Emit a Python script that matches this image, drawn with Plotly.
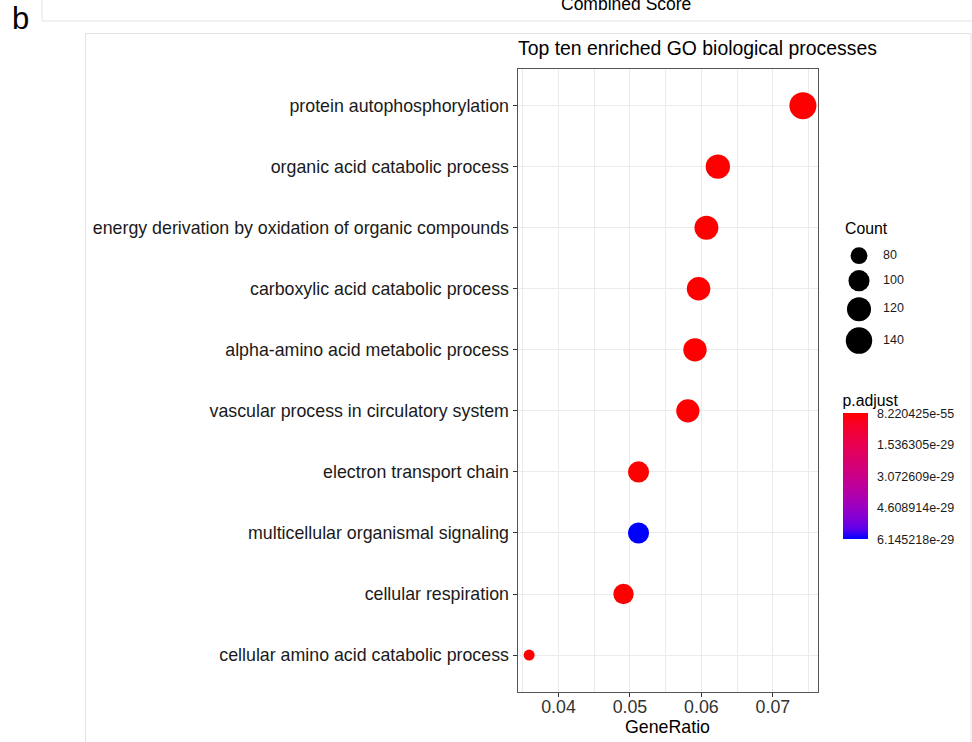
import plotly.graph_objects as go

# ---------------- data ----------------
terms = [
    "protein autophosphorylation",
    "organic acid catabolic process",
    "energy derivation by oxidation of organic compounds",
    "carboxylic acid catabolic process",
    "alpha-amino acid metabolic process",
    "vascular process in circulatory system",
    "electron transport chain",
    "multicellular organismal signaling",
    "cellular respiration",
    "cellular amino acid catabolic process",
]
gene_ratio = [0.0742, 0.0623, 0.0607, 0.0596, 0.0591, 0.0581, 0.0512, 0.0512, 0.0491, 0.0359]
count = [145, 122, 119, 116, 115, 114, 100, 100, 96, 70]
p_adjust = [8.220425e-55, 3.1e-45, 2.4e-44, 5.6e-44, 1.2e-42, 4.5e-40, 2.3e-36,
            6.145218e-29, 7.8e-35, 1.9e-31]

size_breaks = [80, 100, 120, 140]
p_ticks = [8.220425e-55, 1.536305e-29, 3.072609e-29, 4.608914e-29, 6.145218e-29]
p_tick_labels = ["8.220425e-55", "1.536305e-29", "3.072609e-29", "4.608914e-29", "6.145218e-29"]

# ---------------- helpers ----------------
W, H = 972, 742
def px(x):
    return x / W
def py(y):
    return 1 - y / H

C_MIN, C_MAX = 70, 145
D_MIN, D_MAX = 11.0, 27.0
def size_fn(c):
    t = max(0.0, min(1.0, (c - C_MIN) / (C_MAX - C_MIN)))
    return D_MIN + (D_MAX - D_MIN) * t ** 0.5

def srgb_to_lab(rgb):
    def lin(c):
        c = c / 255
        return c / 12.92 if c <= 0.04045 else ((c + 0.055) / 1.055) ** 2.4
    r, g, b = [lin(c) for c in rgb]
    X = 0.4124 * r + 0.3576 * g + 0.1805 * b
    Y = 0.2126 * r + 0.7152 * g + 0.0722 * b
    Z = 0.0193 * r + 0.1192 * g + 0.9505 * b
    def f(t):
        return t ** (1 / 3) if t > 0.008856 else 7.787 * t + 16 / 116
    fx, fy, fz = f(X / 0.95047), f(Y / 1.0), f(Z / 1.08883)
    return 116 * fy - 16, 500 * (fx - fy), 200 * (fy - fz)

def lab_to_srgb(L, a, b):
    fy = (L + 16) / 116
    fx = fy + a / 500
    fz = fy - b / 200
    def finv(t):
        return t ** 3 if t ** 3 > 0.008856 else (t - 16 / 116) / 7.787
    X, Y, Z = 0.95047 * finv(fx), finv(fy), 1.08883 * finv(fz)
    r = 3.2406 * X - 1.5372 * Y - 0.4986 * Z
    g = -0.9689 * X + 1.8758 * Y + 0.0415 * Z
    bb = 0.0557 * X - 0.2040 * Y + 1.0570 * Z
    def gam(c):
        c = max(0.0, min(1.0, c))
        return 12.92 * c if c <= 0.0031308 else 1.055 * c ** (1 / 2.4) - 0.055
    return tuple(int(round(255 * gam(c))) for c in (r, g, bb))

lab_blue = srgb_to_lab((0, 0, 255))
lab_red = srgb_to_lab((255, 0, 0))
colorscale = []
n = 12
for i in range(n + 1):
    t = i / n
    L = lab_blue[0] + (lab_red[0] - lab_blue[0]) * t
    A = lab_blue[1] + (lab_red[1] - lab_blue[1]) * t
    B = lab_blue[2] + (lab_red[2] - lab_blue[2]) * t
    r, g, b = lab_to_srgb(L, A, B)
    colorscale.append([t, f"rgb({r},{g},{b})"])

FONT = "Liberation Sans, Arial, sans-serif"
AX_TXT = "#333333"
fs_axis = 17.8
GRID = "#EBEBEB"

fig = go.Figure()

# main dot plot
fig.add_trace(go.Scatter(
    x=gene_ratio, y=terms, mode="markers",
    marker=dict(
        size=[size_fn(c) for c in count],
        color=[-p for p in p_adjust],
        colorscale=colorscale,
        cmin=-max(p_ticks), cmax=-min(p_ticks),
        line=dict(width=0),
        opacity=1,
        showscale=True,
        colorbar=dict(
            x=px(842.5), xanchor="left",
            y=py(539.3), yanchor="bottom",
            len=148, lenmode="pixels",
            thickness=25, thicknessmode="pixels",
            xpad=0, ypad=0, outlinewidth=0,
            tickvals=[-p for p in p_ticks], ticktext=p_tick_labels,
            ticks="outside", ticklen=7, tickcolor="white", tickwidth=1,
            tickfont=dict(family=FONT, size=12.5, color="#1a1a1a"),
            title=dict(text="p.adjust", side="top",
                       font=dict(family=FONT, size=15.8, color="#000000")),
        ),
    ),
    showlegend=False, hoverinfo="x+y",
))

# size legend (on a hidden pixel-unit axis)
diams = [size_fn(c) for c in size_breaks]
centers = [255.7]
for i in range(1, len(diams)):
    centers.append(centers[-1] + (diams[i - 1] + diams[i]) / 2 + 6)
fig.add_trace(go.Scatter(
    x=[859] * len(size_breaks), y=centers, mode="markers",
    marker=dict(size=diams, color="#000000", opacity=1, line=dict(width=0)),
    xaxis="x2", yaxis="y2", showlegend=False, hoverinfo="skip",
))
fig.add_trace(go.Scatter(
    x=[883] * len(size_breaks), y=centers, mode="text",
    text=[str(b) for b in size_breaks], textposition="middle right",
    textfont=dict(family=FONT, size=12.5, color="#1a1a1a"),
    xaxis="x2", yaxis="y2", showlegend=False, hoverinfo="skip",
))

cat_order = list(reversed(terms))

fig.update_layout(
    width=W, height=H,
    margin=dict(l=0, r=0, t=0, b=0),
    paper_bgcolor="white", plot_bgcolor="white",
    font=dict(family=FONT, color=AX_TXT),
    title=dict(text="Top ten enriched GO biological processes",
               x=px(518), xanchor="left", xref="paper",
               y=py(48), yanchor="middle", yref="paper",
               font=dict(family=FONT, size=19.4, color="#000000")),
    xaxis=dict(
        domain=[px(517.5), px(817.5)],
        range=[0.03427, 0.07624],
        tick0=0.04, dtick=0.01, tickformat=".2f",
        showgrid=True, gridcolor=GRID, gridwidth=1.2,
        minor=dict(tick0=0.035, dtick=0.005, showgrid=True,
                   gridcolor=GRID, gridwidth=0.9, ticks=""),
        zeroline=False,
        showline=True, mirror=True, linecolor="#555555", linewidth=1,
        ticks="outside", ticklen=4, tickcolor="#333333", tickwidth=1,
        ticklabelstandoff=-5,
        tickfont=dict(family=FONT, size=fs_axis, color=AX_TXT),
        title=dict(text="GeneRatio", standoff=3,
                   font=dict(family=FONT, size=fs_axis, color="#000000")),
        anchor="y",
    ),
    yaxis=dict(
        domain=[py(691.7), py(69)],
        type="category", categoryorder="array", categoryarray=cat_order,
        range=[-0.6, len(terms) - 0.4],
        showgrid=True, gridcolor=GRID, gridwidth=1.2,
        zeroline=False,
        showline=True, mirror=True, linecolor="#555555", linewidth=1,
        ticks="outside", ticklen=4, tickcolor="#333333", tickwidth=1,
        tickfont=dict(family=FONT, size=fs_axis, color="#1a1a1a"),
        anchor="x",
    ),
    xaxis2=dict(domain=[px(830), 1.0], range=[830, 972], visible=False,
                fixedrange=True, anchor="y2"),
    yaxis2=dict(domain=[py(370), py(240)], range=[370, 240], visible=False,
                fixedrange=True, anchor="x2"),
    shapes=[
        dict(type="rect", xref="paper", yref="paper",
             x0=px(42), x1=px(990), y0=py(21), y1=py(-20),
             line=dict(color="#E3E3E3", width=1), fillcolor="rgba(0,0,0,0)", layer="below"),
        dict(type="rect", xref="paper", yref="paper",
             x0=px(85.5), x1=px(971), y0=py(780), y1=py(33.5),
             line=dict(color="#E3E3E3", width=1), fillcolor="rgba(0,0,0,0)", layer="below"),
    ],
    annotations=[
        dict(text="Combined Score", x=px(626), y=py(3.9), xref="paper", yref="paper",
             xanchor="center", yanchor="middle", showarrow=False,
             font=dict(family=FONT, size=17.5, color="#000000")),
        dict(text="b", x=px(10), y=py(19), xref="paper", yref="paper",
             xanchor="left", yanchor="middle", showarrow=False,
             font=dict(family=FONT, size=31, color="#000000")),
        dict(text="c", x=px(13), y=py(752), xref="paper", yref="paper",
             xanchor="left", yanchor="middle", showarrow=False,
             font=dict(family=FONT, size=31, color="#000000")),
        dict(text="Count", x=px(842.5), y=py(228), xref="paper", yref="paper",
             xanchor="left", yanchor="middle", showarrow=False,
             font=dict(family=FONT, size=15.8, color="#000000")),
    ],
)

fig.write_html(
    "out.html",
    config={"displayModeBar": False},
    post_script="document.body.style.margin='0px';document.body.style.overflow='hidden';",
)
